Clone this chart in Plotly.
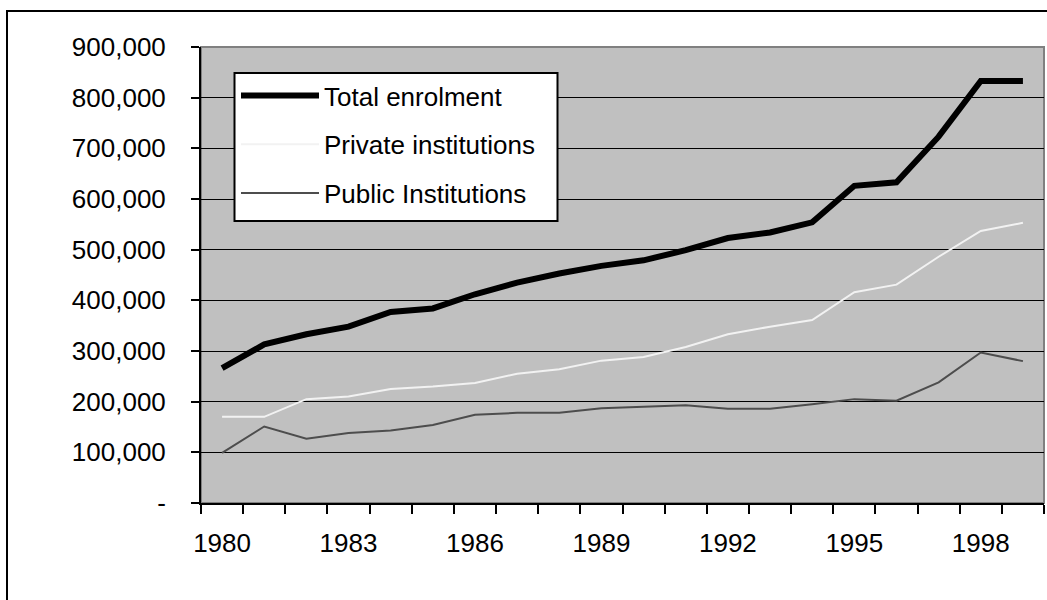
import plotly.graph_objects as go

# Enrolment by year
years = [str(y) for y in range(1980, 2000)]
total_enrolment = [266000, 313000, 333000, 348000, 377000, 384000, 412000, 435000, 453000, 468000,
                   479000, 499000, 523000, 534000, 554000, 626000, 633000, 723000, 833000, 833000]
private_institutions = [170000, 170000, 205000, 210000, 225000, 230000, 237000, 255000, 264000, 281000,
                        288000, 308000, 333000, 348000, 361000, 416000, 431000, 486000, 537000, 553000]
public_institutions = [99000, 151000, 127000, 138000, 143000, 154000, 174000, 178000, 178000, 187000,
                       190000, 193000, 186000, 186000, 195000, 205000, 202000, 238000, 297000, 280000]

y_tick_values = [0, 100000, 200000, 300000, 400000, 500000, 600000, 700000, 800000, 900000]
y_tick_labels = ["-", "100,000", "200,000", "300,000", "400,000", "500,000",
                 "600,000", "700,000", "800,000", "900,000"]
x_tick_labels = [y if (int(y) - 1980) % 3 == 0 else "" for y in years]

FONT = "Arial, Liberation Sans, sans-serif"

# plot area in pixels: x 201..1044, y 47..503
PW, PH = 843, 456


def px_x(v):
    return (v - 201) / PW


def px_y(v):
    return (503 - v) / PH


fig = go.Figure()
fig.add_trace(go.Scatter(x=years, y=total_enrolment, name="Total enrolment", mode="lines",
                         line=dict(color="#000000", width=6), legendgroup="a"))
fig.add_trace(go.Scatter(x=years, y=private_institutions, name="Private institutions", mode="lines",
                         line=dict(color="#F2F2F2", width=2), legendgroup="b"))
fig.add_trace(go.Scatter(x=years, y=public_institutions, name="Public Institutions", mode="lines",
                         line=dict(color="#4D4D4D", width=2), legendgroup="c"))

fig.update_layout(
    width=1047, height=600,
    margin=dict(l=201, r=3, t=47, b=97),
    paper_bgcolor="white",
    plot_bgcolor="#C0C0C0",
    font=dict(family=FONT, size=26, color="#000000"),
    showlegend=True,
    legend=dict(
        x=px_x(236), y=px_y(72), xanchor="left", yanchor="top",
        bgcolor="rgba(0,0,0,0)", borderwidth=0,
        font=dict(family=FONT, size=26, color="#000000"),
        itemwidth=78, tracegroupgap=12,
    ),
    xaxis=dict(
        type="category",
        tickmode="array", tickvals=years, ticktext=x_tick_labels,
        tickangle=0,
        tickson="boundaries", ticks="outside", ticklen=9, tickwidth=2, tickcolor="black",
        ticklabelstandoff=16,
        showline=True, linecolor="black", linewidth=2,
        showgrid=False, zeroline=False,
        range=[-0.5, len(years) - 0.5],
    ),
    yaxis=dict(
        range=[0, 900000],
        tickmode="array", tickvals=y_tick_values, ticktext=y_tick_labels,
        ticks="outside", ticklen=8, tickwidth=2, tickcolor="black",
        ticklabelstandoff=20,
        showline=True, linecolor="black", linewidth=2,
        showgrid=True, gridcolor="black", gridwidth=1.3,
        zeroline=False,
    ),
    shapes=[
        # plot-area frame (top and right edges)
        dict(type="rect", xref="paper", yref="paper", x0=0, y0=0, x1=1, y1=1,
             line=dict(color="#808080", width=2), layer="below"),
        # outer chart border
        dict(type="rect", xref="paper", yref="paper",
             x0=px_x(7), y0=-0.3, x1=1.05, y1=px_y(11),
             line=dict(color="black", width=2), layer="below"),
        # legend box
        dict(type="rect", xref="paper", yref="paper",
             x0=px_x(234.5), y0=px_y(221), x1=px_x(557.5), y1=px_y(73),
             fillcolor="white", line=dict(color="black", width=2), layer="above"),
    ],
)

fig.write_html("out.html")
